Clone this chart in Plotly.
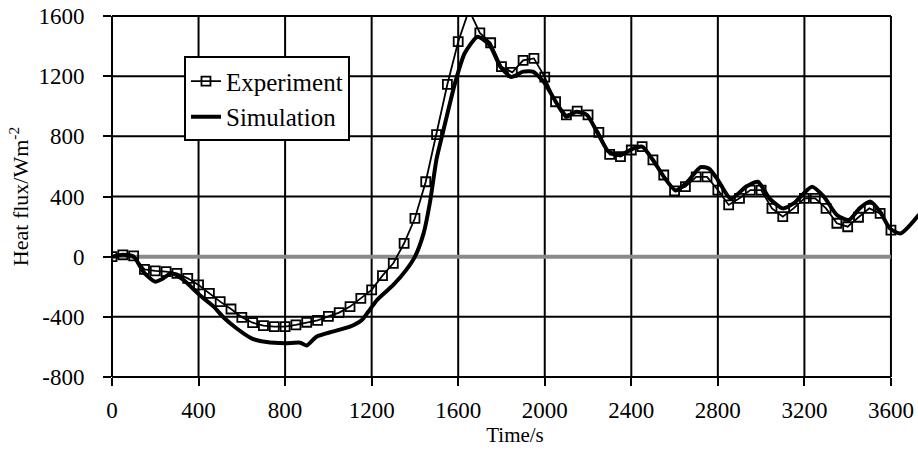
import plotly.graph_objects as go

# ---------------- data ----------------
exp_t = [0, 50, 100, 150, 200, 250, 300, 350, 400, 450, 500, 550, 600, 650, 700, 750,
         800, 850, 900, 950, 1000, 1050, 1100, 1150, 1200, 1250, 1300, 1350, 1400, 1450,
         1500, 1550, 1600, 1650, 1700, 1750, 1800, 1850, 1900, 1950, 2000, 2050, 2100,
         2150, 2200, 2250, 2300, 2350, 2400, 2450, 2500, 2550, 2600, 2650, 2700, 2750,
         2800, 2850, 2900, 2950, 3000, 3050, 3100, 3150, 3200, 3250, 3300, 3350, 3400,
         3450, 3500, 3550, 3600]
exp_v = [0, 12, 5, -84, -95, -100, -111, -144, -188, -244, -299, -348, -403, -439, -459, -465,
         -465, -454, -436, -423, -397, -372, -332, -277, -221, -126, -44, 89, 255, 498,
         812, 1146, 1429, 1640, 1488, 1422, 1263, 1225, 1305, 1318, 1194, 1030, 942,
         968, 942, 826, 680, 665, 709, 731, 643, 543, 437, 465, 530, 530,
         443, 344, 388, 443, 443, 321, 266, 321, 388, 388, 321, 222, 199,
         262, 321, 288, 177]

sim_t = [0, 50, 100, 130, 150, 200, 230, 275, 330, 405, 470, 515, 575, 645, 715, 800, 870,
         900, 945, 1020, 1100, 1155, 1185, 1225, 1300, 1360, 1400, 1440, 1470, 1500, 1530,
         1585, 1630, 1690, 1745, 1795, 1845, 1900, 1945, 1995, 2055, 2100, 2145, 2195, 2245,
         2295, 2350, 2410, 2450, 2500, 2550, 2605, 2660, 2720, 2760, 2800, 2860, 2930, 2985,
         3040, 3100, 3150, 3235, 3290, 3350, 3405, 3455, 3505, 3550, 3595, 3645, 3730]
sim_v = [0, 12, 0, -65, -110, -166, -150, -111, -155, -255, -332, -403, -476, -543, -568, -575, -572,
         -590, -532, -498, -465, -421, -365, -288, -188, -88, 0, 155, 365, 650, 830,
         1152, 1352, 1462, 1407, 1263, 1195, 1230, 1230, 1163, 1020, 930, 964, 942, 820,
         698, 676, 720, 731, 643, 532, 440, 498, 595, 585, 510, 385, 465, 498,
         385, 321, 354, 465, 399, 277, 244, 321, 366, 299, 188, 155, 280]

x_ticks = [0, 400, 800, 1200, 1600, 2000, 2400, 2800, 3200, 3600]
y_ticks = [-800, -400, 0, 400, 800, 1200, 1600]
x_range = [0, 3725]
y_range = [-800, 1600]

FONT = "Times New Roman, Liberation Serif, serif"

fig = go.Figure()

fig.add_trace(go.Scatter(
    x=exp_t, y=exp_v, name="Experiment", mode="lines+markers",
    line=dict(color="black", width=1.8),
    marker=dict(symbol="square-open", size=9, color="black", line=dict(width=1.8)),
))
fig.add_trace(go.Scatter(
    x=sim_t, y=sim_v, name="Simulation", mode="lines",
    line=dict(color="black", width=4, shape="spline", smoothing=0.6),
))

# grid and frame (end at 3600, the chart's last tick)
def xp(t):
    return (t - x_range[0]) / (x_range[1] - x_range[0])

def yp(v):
    return (v - y_range[0]) / (y_range[1] - y_range[0])

shapes = []
x_end = x_ticks[-1]
for t in x_ticks:
    shapes.append(dict(type="line", xref="paper", yref="paper", x0=xp(t), x1=xp(t),
                       y0=0, y1=1, line=dict(color="black", width=2), layer="below"))
for v in y_ticks:
    shapes.append(dict(type="line", xref="paper", yref="paper", x0=0, x1=xp(x_end),
                       y0=yp(v), y1=yp(v), line=dict(color="black", width=2), layer="below"))
# grey zero line
shapes.append(dict(type="line", xref="paper", yref="paper", x0=0, x1=xp(x_end),
                   y0=yp(0), y1=yp(0), line=dict(color="#8a8a8a", width=4), layer="below"))

fig.update_layout(
    width=918, height=453,
    margin=dict(l=112, r=0, t=16, b=76, autoexpand=False),
    paper_bgcolor="white", plot_bgcolor="white",
    font=dict(family=FONT, color="black", size=22),
    shapes=shapes,
    showlegend=True,
    legend=dict(x=0.0893, y=0.888, xanchor="left", yanchor="top",
                bgcolor="white", bordercolor="black", borderwidth=2,
                font=dict(size=25, family=FONT, color="black"), tracegroupgap=0),
    xaxis=dict(range=x_range, tickvals=x_ticks, ticktext=[str(t) for t in x_ticks],
               showgrid=False, zeroline=False, showline=False, automargin=False,
               ticks="outside", ticklen=8, tickwidth=2, tickcolor="black",
               ticklabeloverflow="allow",
               tickfont=dict(size=23, family=FONT, color="black"), ticklabelstandoff=4,
               title=dict(text="Time/s", font=dict(size=21, family=FONT, color="black"), standoff=4)),
    yaxis=dict(range=y_range, tickvals=y_ticks, ticktext=[str(v) for v in y_ticks],
               showgrid=False, zeroline=False, showline=False, automargin=False,
               ticks="outside", ticklen=8, tickwidth=2, tickcolor="black",
               ticklabeloverflow="allow",
               tickfont=dict(size=23, family=FONT, color="black"), ticklabelstandoff=14,
               title=dict(text="Heat flux/Wm<sup>-2</sup>",
                          font=dict(size=22, family=FONT, color="black"), standoff=3)),
)

fig.write_html("out.html", config={"displayModeBar": False},
               post_script="document.body.style.margin='0px';document.body.style.overflow='hidden';")
